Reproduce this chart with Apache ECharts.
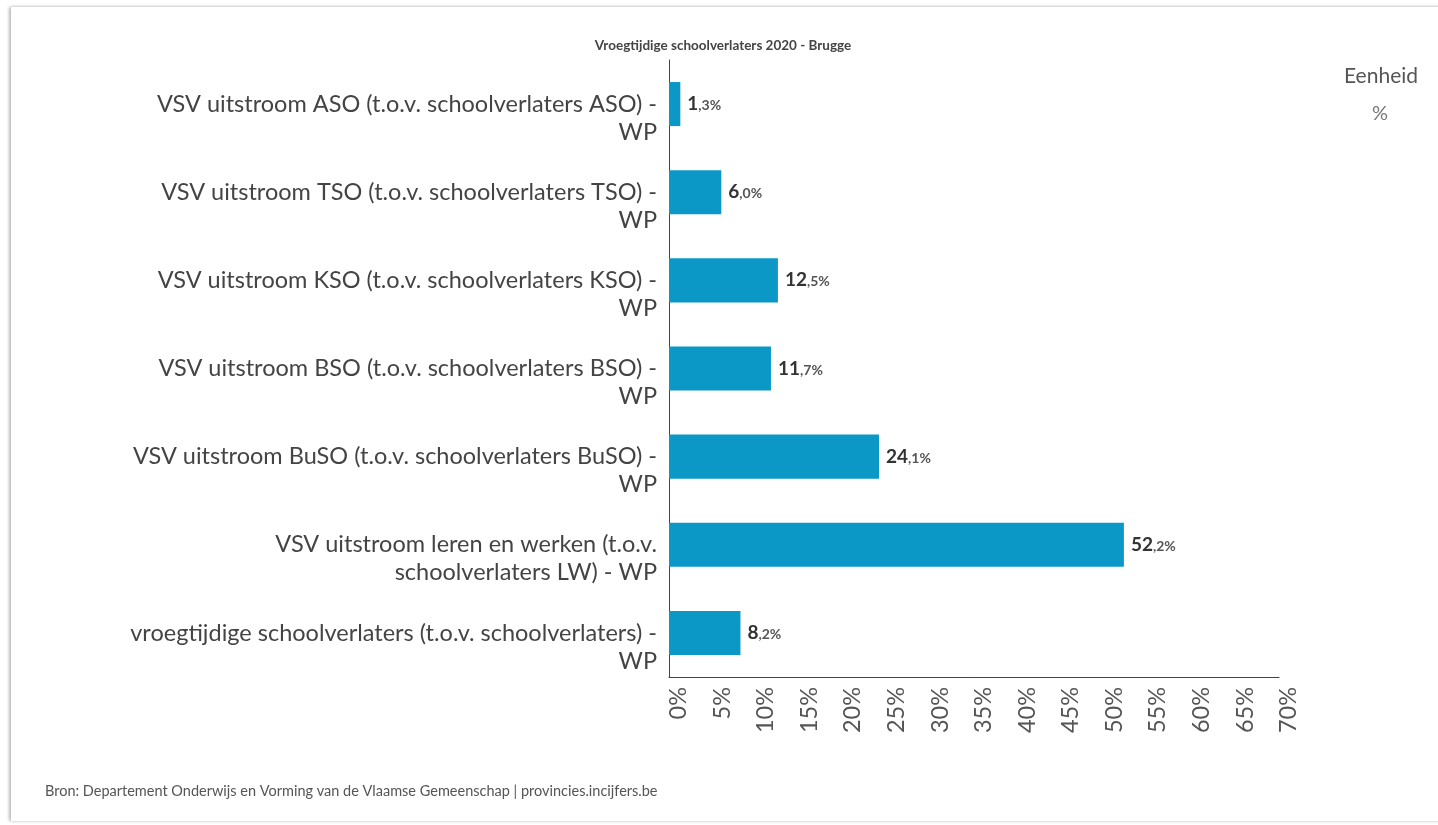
<!DOCTYPE html>
<html>
<head>
<meta charset="utf-8">
<title>Vroegtijdige schoolverlaters 2020 - Brugge</title>
<script src="https://cdn.jsdelivr.net/npm/echarts@6/dist/echarts.min.js"></script>
<style>
  html, body {
    margin: 0;
    padding: 0;
    width: 1438px;
    height: 825px;
    overflow: hidden;
    background: #fff;
  }
  .card {
    position: absolute;
    left: 11px;
    top: 7px;
    width: 1440px;
    height: 814px;
    background: #fff;
    box-shadow: -2px 0 3px rgba(0,0,0,0.25), 0 -1px 3px rgba(0,0,0,0.08);
  }
  #chart {
    position: absolute;
    left: 0;
    top: 0;
    width: 1438px;
    height: 825px;
  }
</style>
</head>
<body>
<div class="card"></div>
<div id="chart"></div>
<script>
  // data
  const categories = [
    'VSV uitstroom ASO (t.o.v. schoolverlaters ASO) -\nWP',
    'VSV uitstroom TSO (t.o.v. schoolverlaters TSO) -\nWP',
    'VSV uitstroom KSO (t.o.v. schoolverlaters KSO) -\nWP',
    'VSV uitstroom BSO (t.o.v. schoolverlaters BSO) -\nWP',
    'VSV uitstroom BuSO (t.o.v. schoolverlaters BuSO) -\nWP',
    'VSV uitstroom leren en werken (t.o.v.\nschoolverlaters LW) - WP',
    'vroegtijdige schoolverlaters (t.o.v. schoolverlaters) -\nWP'
  ]
  const values = [1.3, 6.0, 12.5, 11.7, 24.1, 52.2, 8.2]
  const axisMin = 0
  const axisMax = 70
  const axisStep = 5

  const font = 'Lato, "Open Sans", sans-serif'

  const chart = echarts.init(document.getElementById('chart'))

  let option = {
    animation: false,
    textStyle: {fontFamily: font},
    title: {
      text: 'Vroegtijdige schoolverlaters 2020 - Brugge',
      left: 718,
      top: 34,
      textAlign: 'center',
      textStyle: {fontSize: 13.5, fontWeight: 'bold', color: '#444', fontFamily: font}
    },
    graphic: [
      {
        type: 'text', left: 1344, top: 66,
        style: {text: 'Eenheid', fontSize: 21, fill: '#555', fontFamily: font}
      },
      {
        type: 'text', left: 1372, top: 104,
        style: {text: '%', fontSize: 20, fill: '#777', fontFamily: font}
      },
      {
        type: 'text', left: 45, top: 784,
        style: {
          text: 'Bron: Departement Onderwijs en Vorming van de Vlaamse Gemeenschap | provincies.incijfers.be',
          fontSize: 14.5, fill: '#555', fontFamily: font
        }
      }
    ],
    grid: {
      left: 669,
      right: 159,
      top: 60,
      bottom: 148,
      containLabel: false
    },
    xAxis: {
      type: 'value',
      min: axisMin,
      max: axisMax,
      interval: axisStep,
      splitLine: {show: false},
      axisTick: {show: false},
      axisLine: {show: true, lineStyle: {color: '#444', width: 1}},
      axisLabel: {
        rotate: 90,
        margin: 10,
        fontSize: 23.5,
        lineHeight: 19,
        color: '#555',
        showMinLabel: true,
        showMaxLabel: true,
        hideOverlap: false,
        // leading empty line nudges the rotated label right of the tick
        formatter: (v) => '\n' + v + '%'
      }
    },
    yAxis: {
      type: 'category',
      inverse: true,
      data: categories,
      axisTick: {show: false},
      axisLine: {show: true, lineStyle: {color: '#444', width: 1}},
      axisLabel: {
        fontSize: 23.5,
        lineHeight: 28,
        color: '#444',
        margin: 12,
        align: 'right',
        // empty first line so the first text line sits on the bar centre
        formatter: (v) => '\n' + v
      }
    },
    series: [
      {
        type: 'bar',
        data: values,
        barWidth: '50%',
        itemStyle: {color: '#0b98c7'},
        label: {
          show: true,
          position: 'right',
          distance: 7,
          formatter: (p) => {
            let parts = p.value.toFixed(1).split('.')
            return '{a|' + parts[0] + '}{b|,' + parts[1] + '%}'
          },
          rich: {
            a: {fontSize: 19, fontWeight: 'bold', color: '#333', fontFamily: font},
            b: {fontSize: 14, fontWeight: 'bold', color: '#555', fontFamily: font, padding: [3, 0, 0, 0]}
          }
        }
      }
    ]
  }

  chart.setOption(option)
</script>
</body>
</html>
